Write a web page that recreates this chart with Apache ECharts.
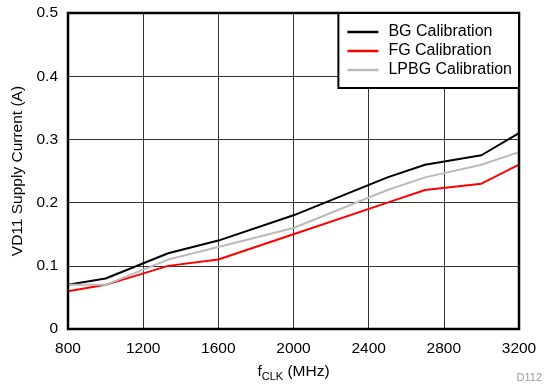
<!DOCTYPE html>
<html>
<head>
<meta charset="utf-8">
<script src="https://cdn.jsdelivr.net/npm/echarts@6/dist/echarts.min.js"></script>
<style>html,body{margin:0;padding:0;background:#fff;}#c{width:544px;height:387px;}</style>
</head>
<body>
<div id="c"></div>
<script>
const freq = [800, 1000, 1333, 1600, 2000, 2500, 2700, 3000, 3200];
const bgCal = [0.07, 0.08, 0.12, 0.14, 0.18, 0.24, 0.26, 0.275, 0.31];
const fgCal = [0.06, 0.07, 0.10, 0.11, 0.15, 0.20, 0.22, 0.23, 0.26];
const lpbgCal = [0.07, 0.07, 0.11, 0.13, 0.16, 0.22, 0.24, 0.26, 0.28];
const seriesNames = ['BG Calibration', 'FG Calibration', 'LPBG Calibration'];
const xTicks = [800, 1200, 1600, 2000, 2400, 2800, 3200];
const yTicks = [0, 0.1, 0.2, 0.3, 0.4, 0.5];

const font = 'Liberation Sans, Arial, Helvetica, sans-serif';
const pair = arr => freq.map((f, i) => [f, arr[i]]);
const colors = ['#000000', '#ff0000', '#bbbbbb'];
const chart = echarts.init(document.getElementById('c'), null, {renderer: 'canvas'});
chart.setOption({
  animation: false,
  textStyle: {fontFamily: font},
  grid: {left: 68, right: 25, top: 13, bottom: 53, show: true, borderColor: '#000', borderWidth: 2.5, backgroundColor: 'transparent', z: 3},
  legend: {
    right: 25, top: 13, orient: 'vertical',
    backgroundColor: '#fff', borderColor: '#000', borderWidth: 2,
    padding: [10, 7, 9, 9], itemGap: 1,
    itemWidth: 31, itemHeight: 2.5, icon: 'rect',
    textStyle: {fontSize: 16, color: '#000', fontFamily: font, lineHeight: 18, padding: [0, 0, 0, 5]},
    data: seriesNames
  },
  xAxis: {
    type: 'value', min: xTicks[0], max: xTicks[xTicks.length - 1], interval: 400,
    axisLine: {show: false}, axisTick: {show: false},
    axisLabel: {fontSize: 15.5, color: '#000', margin: 12, fontFamily: font, formatter: v => String(v)},
    splitLine: {show: true, lineStyle: {color: '#333', width: 1}},
    name: 'f{sub|CLK} (MHz)', nameLocation: 'middle', nameGap: 39,
    nameTextStyle: {fontSize: 15.5, color: '#000', fontFamily: font, lineHeight: 20, verticalAlign: 'middle',
      rich: {sub: {fontSize: 11, color: '#000', fontFamily: font, verticalAlign: 'bottom', padding: [7, 0, 0, 0]}}}
  },
  yAxis: {
    type: 'value', min: yTicks[0], max: yTicks[yTicks.length - 1], interval: 0.1,
    axisLine: {show: false}, axisTick: {show: false},
    axisLabel: {fontSize: 15.5, color: '#000', margin: 10, fontFamily: font},
    splitLine: {show: true, lineStyle: {color: '#333', width: 1}},
    name: 'VD11 Supply Current (A)', nameLocation: 'middle', nameGap: 42,
    nameTextStyle: {fontSize: 15.5, color: '#000', fontFamily: font}
  },
  series: [bgCal, fgCal, lpbgCal].map((arr, i) => ({
    name: seriesNames[i], type: 'line', data: pair(arr), symbol: 'none',
    lineStyle: {color: colors[i], width: 2}, itemStyle: {color: colors[i]}, z: 2
  })),
  graphic: [{type: 'text', right: 2, bottom: 4, style: {text: 'D112', fill: '#999', fontSize: 11, fontFamily: font}}]
});
</script>
</body>
</html>
